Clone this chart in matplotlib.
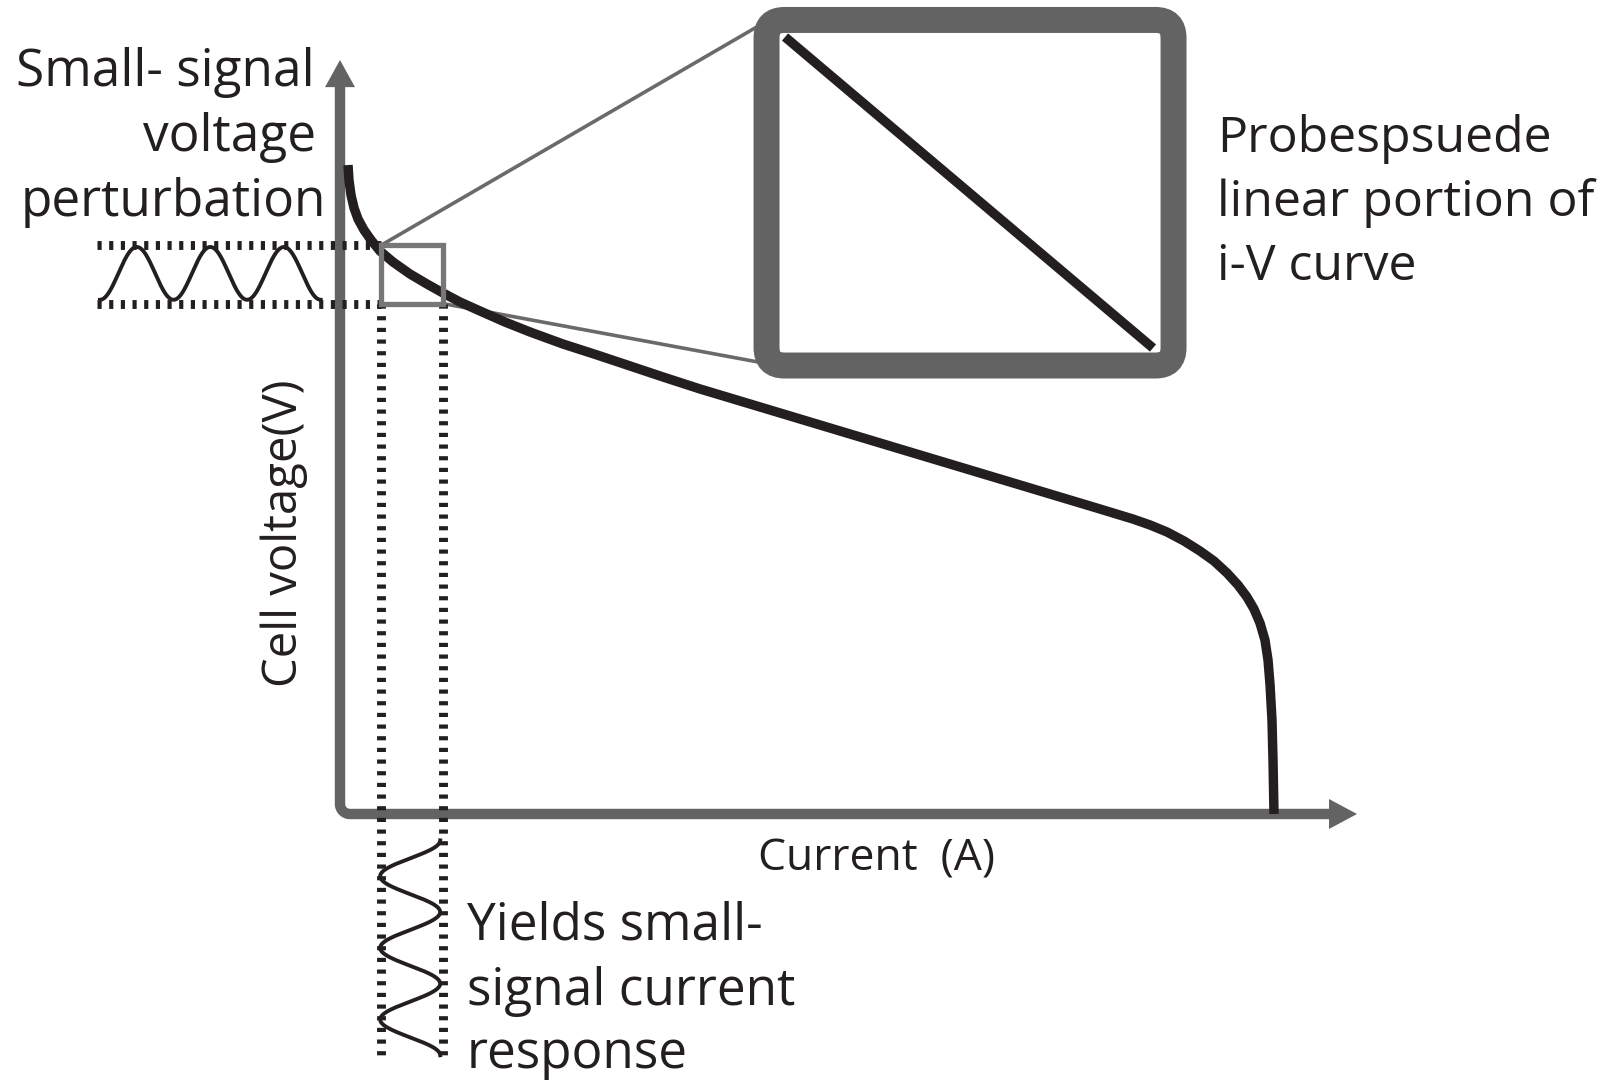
import numpy as np
import matplotlib.pyplot as plt
from matplotlib.patches import Rectangle, FancyBboxPatch

plt.rcParams['font.family'] = ['Open Sans', 'DejaVu Sans']
plt.rcParams['lines.scale_dashes'] = False

# i-V curve (arbitrary units, no ticks on the axes)
current = [0.0079, 0.0088, 0.0108, 0.0138, 0.0177, 0.0236, 0.0305, 0.0393, 0.0521, 0.0688,
           0.0855, 0.1013, 0.1180, 0.1377, 0.1622, 0.1868, 0.2193, 0.2527, 0.2852, 0.3176,
           0.3540, 0.4523, 0.5506, 0.6490, 0.7473, 0.7797, 0.7965, 0.8132, 0.8299, 0.8456,
           0.8594, 0.8722, 0.8830, 0.8918, 0.8987, 0.9046, 0.9095, 0.9125, 0.9145, 0.9164,
           0.9174, 0.9184]
voltage = [0.8607, 0.8408, 0.8210, 0.8037, 0.7891, 0.7745, 0.7613, 0.7467, 0.7321, 0.7162,
           0.7029, 0.6910, 0.6790, 0.6671, 0.6525, 0.6393, 0.6233, 0.6088, 0.5942, 0.5796,
           0.5637, 0.5239, 0.4841, 0.4443, 0.4045, 0.3912, 0.3833, 0.3740, 0.3621, 0.3488,
           0.3355, 0.3196, 0.3037, 0.2878, 0.2719, 0.2533, 0.2308, 0.2042, 0.1711, 0.1247,
           0.0716, 0.0]

# probed window on the curve
win_current = [0.040, 0.101]
win_voltage = [0.677, 0.754]

# perturbation (voltage) and response (current) waves
n_cycles = 3
v_wave_span = [-0.236, -0.019]     # current-axis extent of the drawn voltage wave
v_wave_mid, v_wave_amp = 0.717, 0.035
i_wave_span = [-0.035, -0.320]     # voltage-axis extent of the drawn current wave
i_wave_mid, i_wave_amp = 0.069, 0.0295

ink = '#231f20'
axis_grey = '#636363'

W, H, dpi = 1615, 1082, 100
fig = plt.figure(figsize=(W / dpi, H / dpi), dpi=dpi)
ax = fig.add_axes([0, 0, 1, 1])
# 1 unit of current = 1017 px, 1 unit of voltage = 754 px, origin at (340, 814) px
sx, sy = 1017, 754
ax.set_xlim(-340 / sx, (W - 340) / sx)
ax.set_ylim(-(H - 814) / sy, 814 / sy)
ax.axis('off')

# axes with rounded corner and arrow heads
r = 10
th = np.linspace(np.pi, 1.5 * np.pi, 20)
ax_x = np.concatenate([[0], r / sx + r / sx * np.cos(th), [0.975]])
ax_y = np.concatenate([[0.97], r / sy + r / sy * np.sin(th), [0]])
ax.plot(ax_x, ax_y, color=axis_grey, lw=7.5, solid_joinstyle='round', zorder=2)
ax.fill([-15 / sx, 15 / sx, 0], [0.964, 0.964, 1.0], color=axis_grey, lw=0, zorder=2)
ax.fill([0.9725, 0.9725, 1.0], [-15 / sy, 15 / sy, 0], color=axis_grey, lw=0, zorder=2)

# the i-V curve
ax.plot(current, voltage, color=ink, lw=6.8, solid_joinstyle='round',
        solid_capstyle='butt', zorder=3)

# dotted guides of the probed window
dot = dict(color=ink, lw=6.4, dashes=(3.0, 5.4), dash_capstyle='butt', zorder=4)
for v in win_voltage:
    ax.plot([-0.239, win_current[0]], [v, v], **dot)
for c in win_current:
    ax.plot([c, c], [win_voltage[0], -0.32], **dot)

# probed window box
ax.add_patch(Rectangle((win_current[0], win_voltage[0]), win_current[1] - win_current[0],
                       win_voltage[1] - win_voltage[0], fill=False, ec='#777777', lw=3.8, zorder=5))

# zoomed view of the window
ins_x0, ins_x1 = 0.4194, 0.8196
ins_y0, ins_y1 = 0.5948, 1.0531
ax.plot([win_current[0], 0.408], [win_voltage[1], 1.0424], color='#6a6a6a', lw=2.6, zorder=1)
ax.plot([win_current[1], 0.411], [win_voltage[0], 0.5995], color='#6a6a6a', lw=2.6, zorder=1)
ax.add_patch(FancyBboxPatch((ins_x0, ins_y0), ins_x1 - ins_x0, ins_y1 - ins_y0,
                            boxstyle=f"round,pad=0,rounding_size={18 / sx}",
                            mutation_aspect=sx / sy, fc='white', ec=axis_grey, lw=18.7, zorder=6))
ax.plot([0.4376, 0.7994], [1.0305, 0.618], color=ink, lw=6.8, solid_capstyle='butt', zorder=7)

# voltage perturbation and current response
t = np.linspace(0, 1, 400)
ax.plot(v_wave_span[0] + (v_wave_span[1] - v_wave_span[0]) * t,
        v_wave_mid - v_wave_amp * np.cos(2 * np.pi * n_cycles * t), color=ink, lw=2.8, zorder=4)
ax.plot(i_wave_mid + i_wave_amp * np.cos(2 * np.pi * n_cycles * t),
        i_wave_span[0] + (i_wave_span[1] - i_wave_span[0]) * t, color=ink, lw=2.8, zorder=4)

# labels (positions in px from the top-left corner)
def at(px, py):
    return (px - 340) / sx, (814 - py) / sy

for s, xr, yb in zip(['Small- signal', 'voltage', 'perturbation'], [315, 316, 326], [86, 151, 216]):
    ax.text(*at(xr, yb), s, ha='right', va='baseline', fontsize=37, color=ink)
for s, yb in zip(['Probespsuede', 'linear portion of', 'i-V curve'], [152, 216, 280]):
    ax.text(*at(1217, yb), s, ha='left', va='baseline', fontsize=36, color=ink)
for s, yb in zip(['Yields small-', 'signal current', 'response'], [940, 1005, 1068]):
    ax.text(*at(467, yb), s, ha='left', va='baseline', fontsize=37, color=ink)
ax.text(*at(876, 870), 'Current  (A)', ha='center', va='baseline', fontsize=32, color=ink)
ax.text(*at(284, 533), 'Cell voltage(V)', rotation=90,
        ha='center', va='center', fontsize=34, color=ink)

fig.savefig('out.png', dpi=dpi)
